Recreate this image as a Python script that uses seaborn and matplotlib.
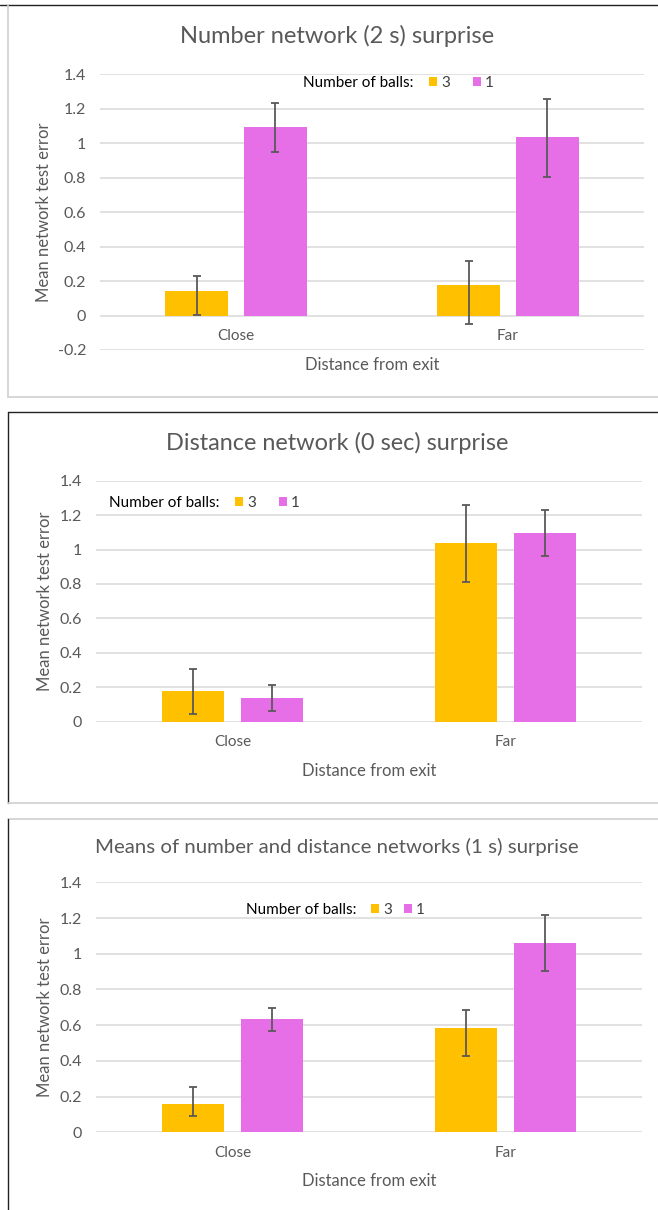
import numpy as np
import pandas as pd
import matplotlib
matplotlib.use("Agg")
import matplotlib.pyplot as plt
import seaborn as sns
from matplotlib.lines import Line2D

# ---------------- data ----------------
distances = ["Close", "Far"]
balls = ["3", "1"]

titles = [
    "Number network (2 s) surprise",
    "Distance network (0 sec) surprise",
    "Means of number and distance networks (1 s) surprise",
]

# Panel 1: Number network (2 s)
p1_vals_3 = [0.14, 0.176]
p1_vals_1 = [1.093, 1.033]
p1_lo_3 = [0.005, -0.05]
p1_hi_3 = [0.23, 0.315]
p1_lo_1 = [0.95, 0.806]
p1_hi_1 = [1.234, 1.255]

# Panel 2: Distance network (0 sec)
p2_vals_3 = [0.176, 1.037]
p2_vals_1 = [0.138, 1.095]
p2_lo_3 = [0.045, 0.81]
p2_hi_3 = [0.303, 1.26]
p2_lo_1 = [0.06, 0.963]
p2_hi_1 = [0.213, 1.227]

# Panel 3: Means (1 s)
p3_vals_3 = [0.16, 0.584]
p3_vals_1 = [0.633, 1.06]
p3_lo_3 = [0.094, 0.426]
p3_hi_3 = [0.252, 0.683]
p3_lo_1 = [0.565, 0.902]
p3_hi_1 = [0.694, 1.219]

y_ticks_p1 = [-0.2, 0, 0.2, 0.4, 0.6, 0.8, 1, 1.2, 1.4]
y_ticks_p23 = [0, 0.2, 0.4, 0.6, 0.8, 1, 1.2, 1.4]

x_label = "Distance from exit"
y_label = "Mean network test error"
legend_title = "Number of balls:"

GOLD = "#FFC000"
PINK = "#E66EE6"
GREY_TXT = "#595959"
GRID = "#D9D9D9"
ERR = "#595959"

sns.set_theme(style="white")
plt.rcParams["font.family"] = ["Lato", "DejaVu Sans"]

W, H = 658, 1210
fig = plt.figure(figsize=(W / 100, H / 100), dpi=100)


def fx(px):
    return px / W


def fy(py):
    return 1 - py / H


panels = [
    dict(vals3=p1_vals_3, vals1=p1_vals_1, lo3=p1_lo_3, hi3=p1_hi_3, lo1=p1_lo_1, hi1=p1_hi_1,
         ticks=y_ticks_p1, rect=(100, 644, 74.2, 350.0), title_y=36, title_fs=17,
         xlab_off=15, ylab_x=44, leg_text_x=303, leg_x=429, leg_y=82.7, colsp=1.5),
    dict(vals3=p2_vals_3, vals1=p2_vals_1, lo3=p2_lo_3, hi3=p2_hi_3, lo1=p2_lo_1, hi1=p2_hi_1,
         ticks=y_ticks_p23, rect=(96, 642, 480.7, 721.5), title_y=443, title_fs=16.9,
         xlab_off=49.5, ylab_x=45, leg_text_x=109, leg_x=235, leg_y=503, colsp=1.5),
    dict(vals3=p3_vals_3, vals1=p3_vals_1, lo3=p3_lo_3, hi3=p3_hi_3, lo1=p3_lo_1, hi1=p3_hi_1,
         ticks=y_ticks_p23, rect=(96, 642, 882.3, 1132.3), title_y=846.7, title_fs=14.7,
         xlab_off=48.7, ylab_x=45, leg_text_x=245.5, leg_x=371, leg_y=910, colsp=0.75),
]

palette = {"3": GOLD, "1": PINK}

for i, P in enumerate(panels):
    l, r, t, b = P["rect"]
    ax = fig.add_axes([fx(l), fy(b), (r - l) / W, (b - t) / H])
    df = pd.DataFrame({
        "distance": distances * 2,
        "balls": [balls[0]] * 2 + [balls[1]] * 2,
        "value": list(P["vals3"]) + list(P["vals1"]),
    })
    sns.barplot(data=df, x="distance", y="value", hue="balls", order=distances,
                hue_order=balls, palette=palette, width=0.58, gap=0.21,
                errorbar=None, linewidth=0, saturation=1, ax=ax)
    lows = [P["lo3"], P["lo1"]]
    highs = [P["hi3"], P["hi1"]]
    for ci, cont in enumerate(ax.containers[:2]):
        xs = [p.get_x() + p.get_width() / 2 for p in cont.patches]
        hs = [p.get_height() for p in cont.patches]
        yerr = [[h - lo for h, lo in zip(hs, lows[ci])],
                [hi - h for h, hi in zip(hs, highs[ci])]]
        ax.errorbar(xs, hs, yerr=yerr, fmt="none", ecolor=ERR, elinewidth=1.3,
                    capsize=3, capthick=1.3, zorder=5)

    ticks = P["ticks"]
    ax.set_ylim(ticks[0], ticks[-1])
    ax.set_xlim(-0.5, 1.5)
    ax.set_yticks(ticks)
    ax.set_yticklabels([f"{v:g}" for v in ticks])
    ax.yaxis.grid(True, color=GRID, linewidth=1.1)
    ax.set_axisbelow(True)
    for s in ax.spines.values():
        s.set_visible(False)
    ax.spines["bottom"].set_position(("data", 0))
    ax.tick_params(axis="y", length=0, pad=10, labelsize=11.5, labelcolor=GREY_TXT)
    ax.tick_params(axis="x", length=0, pad=10, labelsize=11, labelcolor=GREY_TXT)

    ax.set_xlabel(x_label, fontsize=12, color=GREY_TXT, va="center")
    ax.xaxis.set_label_coords(0.5, -P["xlab_off"] / (b - t))
    ax.set_ylabel(y_label, fontsize=12, color=GREY_TXT)
    ax.yaxis.label.set_va("center")
    ax.yaxis.set_label_coords((P["ylab_x"] - l) / (r - l), 0.5)

    # legend
    leg = ax.get_legend()
    if leg is not None:
        leg.remove()
    ax.legend(handles=list(ax.containers[:2]), labels=balls, ncol=2, frameon=False,
              loc="center left", bbox_to_anchor=(fx(P["leg_x"]), fy(P["leg_y"])),
              bbox_transform=fig.transFigure, borderpad=0, borderaxespad=0,
              handlelength=0.55, handleheight=0.55, handletextpad=0.25,
              columnspacing=P["colsp"], fontsize=11, labelcolor="#404040")
    fig.text(fx(P["leg_text_x"]), fy(P["leg_y"]), legend_title, ha="left", va="center",
             fontsize=11, color="black")

    fig.text(fx(337), fy(P["title_y"]), titles[i], ha="center", va="center",
             fontsize=P["title_fs"], color=GREY_TXT)

# panel frames
def hline(y, x0, x1, color, lw=1.0):
    fig.add_artist(Line2D([fx(x0), fx(x1)], [fy(y), fy(y)], color=color, lw=lw))


def vline(x, y0, y1, color, lw=1.0):
    fig.add_artist(Line2D([fx(x), fx(x)], [fy(y0), fy(y1)], color=color, lw=lw))

hline(5, 0, W, "#222222", 1.0)
vline(8, 5, 397, "#D0D0D0", 1.2)
hline(397, 8, W, "#D0D0D0", 1.2)

hline(412.5, 8, W, "#222222", 1.0)
vline(8, 412.5, 803, "#222222", 1.0)
hline(803, 8, W, "#D0D0D0", 1.2)

hline(819, 8, W, "#D0D0D0", 1.2)
vline(8, 819, H, "#222222", 1.0)

fig.savefig("out.png", dpi=100)
